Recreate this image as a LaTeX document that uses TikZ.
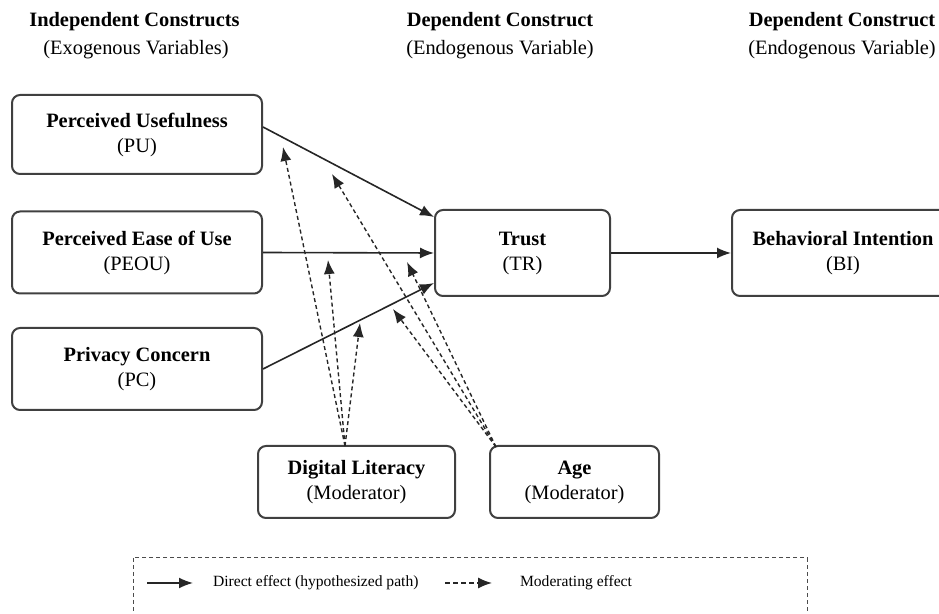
\documentclass[tikz,border=0pt]{standalone}
\usepackage{fontspec}
\setmainfont{Liberation Serif}
\usepackage{xcolor}
\usetikzlibrary{arrows.meta}

\begin{document}
\begin{tikzpicture}[x=0.5pt,y=-0.5pt,
    >={Latex[length=7pt,width=5.5pt]},
    construct/.style={draw=black!75, line width=1pt, rounded corners=4pt, align=center,
      inner sep=0pt, font=\fontsize{10.2}{12.5}\selectfont},
    hdr/.style={font=\fontsize{10.2}{12}\selectfont\bfseries},
    hdrsub/.style={font=\fontsize{10.2}{12}\selectfont},
    direct/.style={->, line width=0.8pt, black!85},
    moder/.style={->, line width=0.7pt, black!85, dash pattern=on 2pt off 1.5pt},
    legtext/.style={anchor=west, font=\fontsize{7.8}{9}\selectfont}]
  \useasboundingbox (0,0) rectangle (939,614);
  \clip (0,0) rectangle (939,614);

  % column headers
  \node[hdr] (indepHead) at (134.5,22) {Independent Constructs};
  \node[hdrsub] (indepSub) at (136,50) {(Exogenous Variables)};
  \node[hdr] (depHead) at (500,22) {Dependent Construct};
  \node[hdrsub] (depSub) at (500,50) {(Endogenous Variable)};
  \node[hdr] (depHeadB) at (842,22) {Dependent Construct};
  \node[hdrsub] (depSubB) at (842,50) {(Endogenous Variable)};

  % constructs
  \node[construct, minimum width=125pt, minimum height=39.5pt] (PU) at (137,134.5) {\textbf{Perceived Usefulness}\\(PU)};
  \node[construct, minimum width=125pt, minimum height=41pt] (PEOU) at (137,252.5) {\textbf{Perceived Ease of Use}\\(PEOU)};
  \node[construct, minimum width=125pt, minimum height=41pt] (PC) at (137,369) {\textbf{Privacy Concern}\\(PC)};
  \node[construct, minimum width=87.5pt, minimum height=43pt] (Trust) at (522.5,253) {\textbf{Trust}\\(TR)};
  \node[construct, minimum width=111pt, minimum height=43pt] (BI) at (843,253) {\textbf{Behavioral Intention}\\(BI)};
  \node[construct, minimum width=98.5pt, minimum height=36pt] (DL) at (356.5,482) {\textbf{Digital Literacy}\\(Moderator)};
  \node[construct, minimum width=84.5pt, minimum height=36pt] (Age) at (574.5,482) {\textbf{Age}\\(Moderator)};

  % direct paths
  \draw[direct] ([yshift=3.75pt]PU.east) -- ([yshift=18pt]Trust.west);
  \draw[direct] (PEOU.east) -- (Trust.west);
  \draw[direct] (PC.east) -- ([yshift=-15pt]Trust.west);
  \draw[direct] (Trust.east) -- (BI.west);

  % moderating effects
  \coordinate (dlTop) at (345,446);
  \coordinate (ageTop) at (496,447);
  \coordinate (mPU) at (283,147);
  \coordinate (mPEOU) at (328,260);
  \coordinate (mPC) at (360,323);
  \coordinate (aPU) at (332,174);
  \coordinate (aPEOU) at (407,262);
  \coordinate (aPC) at (393,309);
  \foreach \t in {mPU,mPEOU,mPC} \draw[moder] (dlTop) -- (\t);
  \foreach \t in {aPU,aPEOU,aPC} \draw[moder] (ageTop) -- (\t);

  % legend
  \draw[black!70, line width=0.5pt, dash pattern=on 2pt off 1.5pt] (133,558) rectangle (807,650);
  \coordinate (legA) at (147,583); \coordinate (legB) at (193,583);
  \coordinate (legC) at (445,583); \coordinate (legD) at (492,583);
  \draw[direct] (legA) -- (legB);
  \node[legtext] (legDirect) at (206,583) {Direct effect (hypothesized path)};
  \draw[moder, dash pattern=on 2.5pt off 1.5pt] (legC) -- (legD);
  \node[legtext] (legModer) at (513,583) {Moderating effect};
\end{tikzpicture}
\end{document}
